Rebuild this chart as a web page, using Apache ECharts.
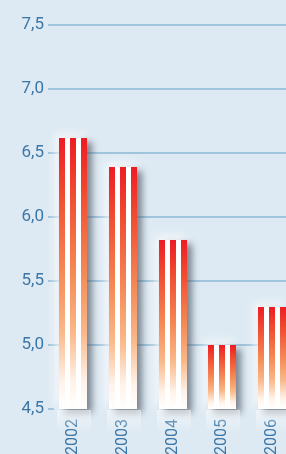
<!DOCTYPE html>
<html lang="de">
  <head>
    <meta charset="UTF-8" />
    <title>Balken 2002-2006</title>
    <script src="https://cdn.jsdelivr.net/npm/echarts@6/dist/echarts.min.js"></script>
    <style>
      html, body { margin: 0; padding: 0; background: #deeaf3; }
    </style>
  </head>
  <body>
    <div id="main" style="width: 286px; height: 454px"></div>
    <script>
      // Daten
      var years = ['2002', '2003', '2004', '2005', '2006'];
      var values = [6.62, 6.39, 5.82, 5.0, 5.3];
      var yMin = 4.5;
      var yMax = 7.5;
      var yStep = 0.5;

      var labelColor = '#3b76a6';
      var gridColor = '#a0c4dc';

      var mCharts = echarts.init(document.getElementById('main'));

      // Balken mit weissen Streifen, Schatten und Spiegelung
      function renderBar(params, api) {
        var top = api.coord([api.value(0), api.value(1)]);
        var base = api.coord([api.value(0), yMin]);
        var w = 28;
        var x = Math.round(top[0] - w / 2);
        var y = Math.round(top[1]);
        var h = Math.round(base[1]) - y;
        return {
          type: 'group',
          children: [
            {
              type: 'rect',
              shape: { x: x, y: y, width: w, height: h },
              style: {
                fill: '#fff',
                shadowBlur: 10,
                shadowColor: 'rgba(255,255,255,0.9)',
                shadowOffsetX: -3,
                shadowOffsetY: -3
              }
            },
            {
              type: 'rect',
              shape: { x: x, y: y, width: w, height: h },
              style: {
                fill: new echarts.graphic.LinearGradient(0, 0, 0, 1, [
                  { offset: 0, color: '#ed1c24' },
                  { offset: 0.2, color: '#f04a30' },
                  { offset: 0.5, color: '#f58a55' },
                  { offset: 0.72, color: '#fab98a' },
                  { offset: 0.9, color: '#fff3ea' },
                  { offset: 1, color: '#ffffff' }
                ]),
                shadowBlur: 7,
                shadowColor: 'rgba(50,60,75,0.6)',
                shadowOffsetX: 5,
                shadowOffsetY: 4
              }
            },
            { type: 'rect', shape: { x: x + 6, y: y, width: 5, height: h }, style: { fill: '#fff' } },
            { type: 'rect', shape: { x: x + 17, y: y, width: 5, height: h }, style: { fill: '#fff' } },
            {
              type: 'rect',
              shape: { x: x - 2, y: y + h + 1, width: w + 6, height: 22 },
              style: {
                fill: new echarts.graphic.LinearGradient(0, 0, 0, 1, [
                  { offset: 0, color: 'rgba(255,255,255,0.55)' },
                  { offset: 1, color: 'rgba(255,255,255,0)' }
                ])
              }
            }
          ]
        };
      }

      var option = {
        backgroundColor: '#deeaf3',
        animation: false,
        grid: { left: 48, width: 249, top: 25, bottom: 45, outerBoundsMode: 'none', containLabel: false },
        xAxis: {
          type: 'category',
          data: years,
          axisLine: { show: false },
          axisTick: { show: false },
          axisLabel: {
            rotate: 90,
            margin: 10,
            color: labelColor,
            fontFamily: 'Roboto',
            fontSize: 16,
            padding: [0, 0, 6, 0]
          }
        },
        yAxis: {
          type: 'value',
          min: yMin,
          max: yMax,
          interval: yStep,
          axisLine: { show: false },
          axisTick: { show: true, inside: true, length: 6, lineStyle: { color: gridColor, width: 2 } },
          splitLine: { show: true, showMinLine: false, lineStyle: { color: gridColor, width: 2 } },
          axisLabel: {
            margin: 4,
            color: labelColor,
            fontFamily: 'Roboto',
            fontSize: 17,
            padding: [0, 0, 6, 0],
            formatter: function (v) {
              return v.toFixed(1).replace('.', ',');
            }
          }
        },
        series: [
          {
            type: 'custom',
            renderItem: renderBar,
            encode: { x: 0, y: 1 },
            data: years.map(function (yr, i) {
              return [i, values[i]];
            })
          }
        ]
      };

      mCharts.setOption(option);
    </script>
  </body>
</html>
